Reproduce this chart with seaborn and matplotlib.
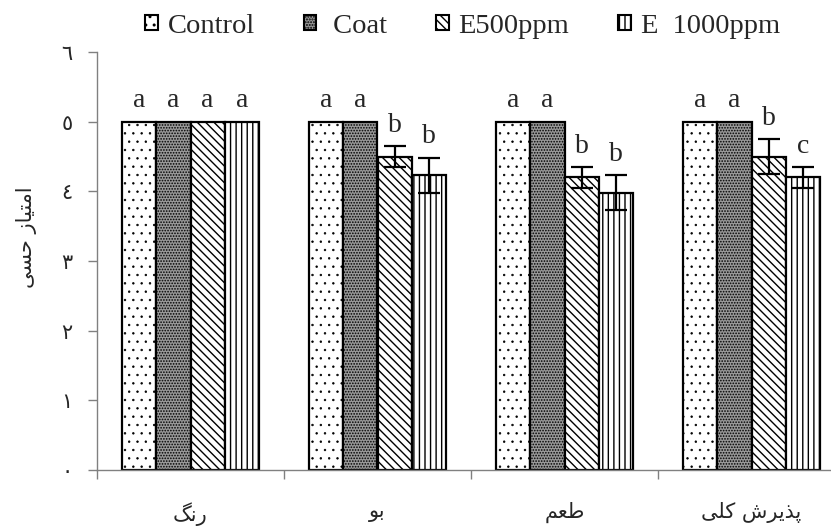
import matplotlib
matplotlib.use("Agg")
import matplotlib.pyplot as plt
from matplotlib.patches import Patch
from matplotlib.container import BarContainer
import seaborn as sns
import pandas as pd

# ---- data ----
attributes = ["رنگ", "بو", "طعم", "پذیرش کلی"]
treatments = ["Control", " Coat", "E500ppm", "E  1000ppm"]
control = [5.0, 5.0, 5.0, 5.0]
coat = [5.0, 5.0, 5.0, 5.0]
e500 = [5.0, 4.5, 4.2, 4.5]
e1000 = [5.0, 4.23, 3.98, 4.2]
err_control = [0, 0, 0, 0]
err_coat = [0, 0, 0, 0]
err_e500 = [0, 0.15, 0.15, 0.25]
err_e1000 = [0, 0.25, 0.25, 0.15]
letters_control = ["a", "a", "a", "a"]
letters_coat = ["a", "a", "a", "a"]
letters_e500 = ["a", "b", "b", "b"]
letters_e1000 = ["a", "b", "b", "c"]
ytick_labels = ["٠", "١", "٢", "٣", "٤", "٥", "٦"]
ylabel = "امتیاز حسی"

# ---- simple Arabic-script shaping (presentation forms, visual order) ----
FORMS = {
    'ا': ('\ufe8d', '\ufe8e'),
    'ب': ('\ufe8f', '\ufe90', '\ufe91', '\ufe92'),
    'پ': ('\ufb56', '\ufb57', '\ufb58', '\ufb59'),
    'ت': ('\ufe95', '\ufe96', '\ufe97', '\ufe98'),
    'ح': ('\ufea1', '\ufea2', '\ufea3', '\ufea4'),
    'ذ': ('\ufeab', '\ufeac'),
    'ر': ('\ufead', '\ufeae'),
    'ز': ('\ufeaf', '\ufeb0'),
    'س': ('\ufeb1', '\ufeb2', '\ufeb3', '\ufeb4'),
    'ش': ('\ufeb5', '\ufeb6', '\ufeb7', '\ufeb8'),
    'ط': ('\ufec1', '\ufec2', '\ufec3', '\ufec4'),
    'ع': ('\ufec9', '\ufeca', '\ufecb', '\ufecc'),
    'ک': ('\ufb8e', '\ufb8f', '\ufb90', '\ufb91'),
    'گ': ('\ufb92', '\ufb93', '\ufb94', '\ufb95'),
    'ل': ('\ufedd', '\ufede', '\ufedf', '\ufee0'),
    'م': ('\ufee1', '\ufee2', '\ufee3', '\ufee4'),
    'ن': ('\ufee5', '\ufee6', '\ufee7', '\ufee8'),
    'و': ('\ufeed', '\ufeee'),
    'ی': ('\ufbfc', '\ufbfd', '\ufbfe', '\ufbff'),
}


def shape_rtl(s):
    out = []
    for i, ch in enumerate(s):
        f = FORMS.get(ch)
        if f is None:
            out.append(ch)
            continue
        prev = s[i - 1] if i > 0 else ''
        nxt = s[i + 1] if i + 1 < len(s) else ''
        jp = prev in FORMS and len(FORMS[prev]) == 4
        jn = len(f) == 4 and nxt in FORMS
        if jp and jn:
            out.append(f[3])
        elif jp:
            out.append(f[1])
        elif jn:
            out.append(f[2])
        else:
            out.append(f[0])
    return ''.join(reversed(out))


sns.set_theme(style="white")
plt.rcParams['font.family'] = ['Liberation Serif', 'DejaVu Sans']
plt.rcParams['hatch.linewidth'] = 1.0

values = [control, coat, e500, e1000]
errors = [err_control, err_coat, err_e500, err_e1000]
letters = [letters_control, letters_coat, letters_e500, letters_e1000]

rows = []
for t, vals in zip(treatments, values):
    for a, v in zip(attributes, vals):
        rows.append({"attr": a, "treatment": t, "value": v})
df = pd.DataFrame(rows)

fig = plt.figure(figsize=(8.31, 5.31), dpi=100)
ax = fig.add_axes([97 / 831, 61 / 531, 748 / 831, 418 / 531])

facecolors = ["white", "#999999", "white", "white"]
hatches = ["..", "......", "\\\\\\\\", "|||"]
hatch_lw = [0.5, 0.8, 1.0, 1.0]

sns.barplot(data=df, x="attr", y="value", hue="treatment", order=attributes,
            hue_order=treatments, palette=facecolors, width=0.73,
            errorbar=None, ax=ax, legend=False, edgecolor="black",
            linewidth=1.6, saturation=1)

bar_containers = [c for c in ax.containers if isinstance(c, BarContainer)]
for ci, cont in enumerate(bar_containers):
    for bi, bar in enumerate(cont.patches):
        bar.set_hatch(hatches[ci])
        if hasattr(bar, "set_hatch_linewidth"):
            bar.set_hatch_linewidth(hatch_lw[ci])
        bar.set_edgecolor("black")
        x = bar.get_x() + bar.get_width() / 2
        h = bar.get_height()
        e = errors[ci][bi]
        if e > 0:
            ax.errorbar([x], [h], yerr=[e], fmt="none", ecolor="black",
                        elinewidth=1.6, capsize=8, capthick=1.6, zorder=5)
        ax.text(x, h + e + 0.3, letters[ci][bi], ha="center", va="center",
                fontsize=20, family=['Liberation Serif', 'DejaVu Sans'])

ax.set_ylim(0, 6)
ax.set_xlim(-0.5, 3.5)
ax.set_yticks(range(7))
ax.set_yticklabels(ytick_labels, family=['DejaVu Sans'], fontsize=15)
ax.set_xticks([-0.5, 0.5, 1.5, 2.5, 3.5])
ax.set_xticklabels([])
ax.set_xticks([0, 1, 2, 3], minor=True)
ax.set_xticklabels([shape_rtl(a) for a in attributes], minor=True,
                   family=['DejaVu Sans'], fontsize=15)
ax.tick_params(axis="x", which="minor", length=0, pad=23)
ax.tick_params(axis="x", which="major", length=6.5, width=1, color="#808080",
               direction="out", bottom=True)
ax.tick_params(axis="y", length=6.5, width=1, color="#808080", direction="out",
               pad=11, left=True)
ax.set_xlabel("")
ax.set_ylabel(shape_rtl(ylabel), family=['DejaVu Sans'], fontsize=15)
ax.yaxis.set_label_coords(-0.080, 0.557)

for s in ["top", "right"]:
    ax.spines[s].set_visible(False)
for s in ["left", "bottom"]:
    ax.spines[s].set_color("#808080")
    ax.spines[s].set_linewidth(1)

handles = [Patch(facecolor=fc, edgecolor="black", hatch=h, linewidth=1.5)
           for fc, h in zip(facecolors, hatches)]
fig.legend(handles, treatments, loc="center", bbox_to_anchor=(0.5566, 0.951),
           ncol=4, frameon=False, handlelength=0.45,
           handleheight=0.45, handletextpad=0.35, columnspacing=1.7,
           borderpad=0, prop={'family': ['Liberation Serif'], 'size': 20.5})

fig.savefig("out.png", dpi=100)
